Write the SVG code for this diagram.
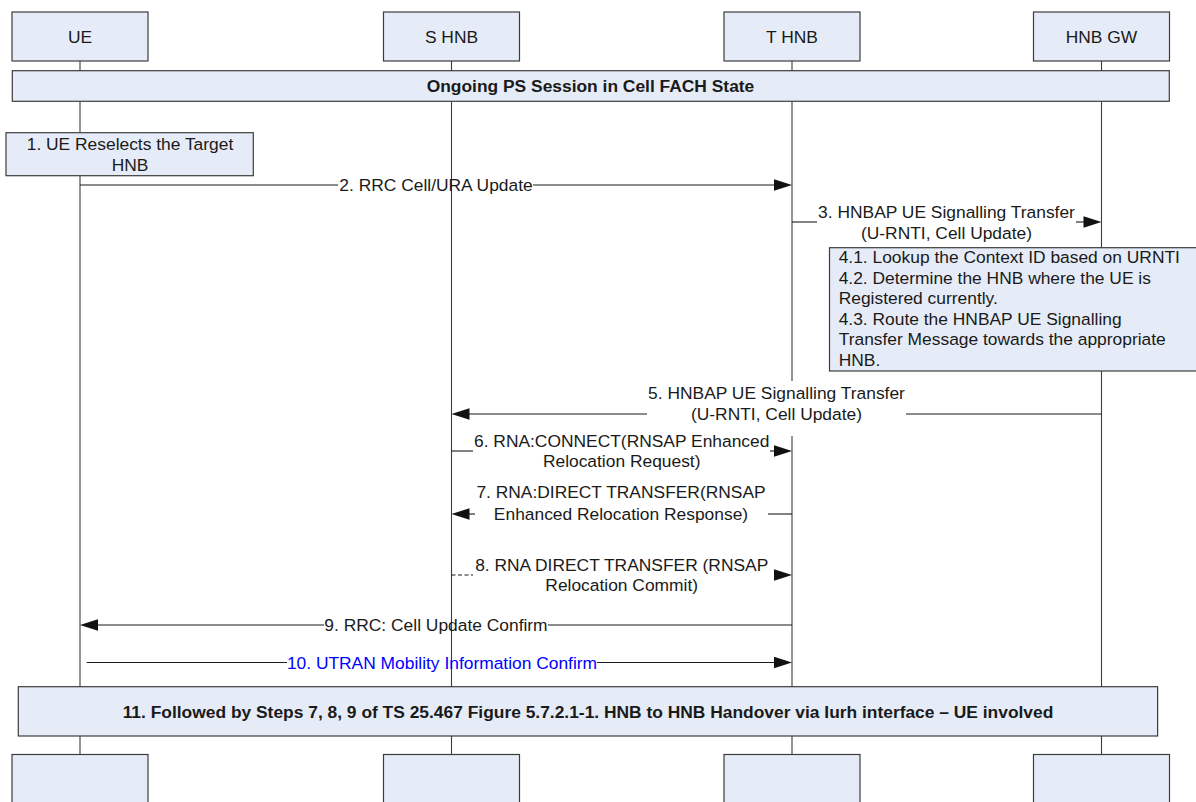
<svg xmlns="http://www.w3.org/2000/svg" width="1196" height="802" viewBox="0 0 1196 802">
  <defs>
    <style>
      .box{fill:#E6ECF7;stroke:#3C3C3C;stroke-width:1.2}
      .life{stroke:#3C3C3C;stroke-width:1.1;fill:none}
      .msg{stroke:#1A1A1A;stroke-width:1.1;fill:none}
      .dash{stroke-dasharray:4 2.5}
      .ah{fill:#111}
      text{font-family:"Liberation Sans",Arial,sans-serif;font-size:17.4px;fill:#1A1A1A}
      .c{text-anchor:middle}
      .b{font-weight:bold}
      .blue{fill:#0000FF}
    </style>
    <!-- arrowhead pointing right, tip at origin -->
    <path id="ahR" d="M0,0 L-18,-5.7 L-18,5.7 Z"/>
    <!-- arrowhead pointing left, tip at origin -->
    <path id="ahL" d="M0,0 L18,-5.7 L18,5.7 Z"/>
  </defs>

  <rect width="1196" height="802" fill="#FFFFFF"/>

  <!-- lifelines -->
  <g id="lifelines">
    <line class="life" x1="80" y1="61" x2="80" y2="755"/>
    <line class="life" x1="451.5" y1="61" x2="451.5" y2="755"/>
    <line class="life" x1="792" y1="61" x2="792" y2="755"/>
    <line class="life" x1="1101.5" y1="61" x2="1101.5" y2="755"/>
  </g>

  <!-- participants: header and footer boxes -->
  <g id="ue">
    <rect class="box" x="12" y="12" width="136" height="49"/>
    <text class="c" x="80" y="42.6">UE</text>
    <rect class="box" x="12" y="754.5" width="136" height="60"/>
  </g>
  <g id="s-hnb">
    <rect class="box" x="383.5" y="12" width="136" height="49"/>
    <text class="c" x="451.5" y="42.6">S HNB</text>
    <rect class="box" x="383.5" y="754.5" width="136" height="60"/>
  </g>
  <g id="t-hnb">
    <rect class="box" x="724" y="12" width="136" height="49"/>
    <text class="c" x="792" y="42.6">T HNB</text>
    <rect class="box" x="724" y="754.5" width="136" height="60"/>
  </g>
  <g id="hnb-gw">
    <rect class="box" x="1033.5" y="12" width="136" height="49"/>
    <text class="c" x="1101.5" y="42.6">HNB GW</text>
    <rect class="box" x="1033.5" y="754.5" width="136" height="60"/>
  </g>

  <!-- state bar -->
  <g id="ongoing-session">
    <rect class="box" x="12.3" y="70.7" width="1157" height="30.6"/>
    <text class="c b" x="590.5" y="92.2">Ongoing PS Session in Cell FACH State</text>
  </g>

  <!-- step 1 -->
  <g id="step1">
    <rect class="box" x="6" y="132.7" width="247.3" height="43"/>
    <text class="c" x="130" y="150.4">1. UE Reselects the Target</text>
    <text class="c" x="130" y="170.6">HNB</text>
  </g>

  <!-- step 4 -->
  <g id="step4">
    <rect class="box" x="829.5" y="247.7" width="375" height="123.3"/>
    <text x="838.7" y="263">4.1. Lookup the Context ID based on URNTI</text>
    <text x="838.7" y="283.6">4.2. Determine the HNB where the UE is</text>
    <text x="838.7" y="304.2">Registered currently.</text>
    <text x="838.7" y="324.8">4.3. Route the HNBAP UE Signalling</text>
    <text x="838.7" y="345.4">Transfer Message towards the appropriate</text>
    <text x="838.7" y="366">HNB.</text>
  </g>

  <!-- step 11 -->
  <g id="step11">
    <rect class="box" x="18.3" y="686.7" width="1139.3" height="49.3"/>
    <text class="c b" x="588" y="717.5">11. Followed by Steps 7, 8, 9 of TS 25.467 Figure 5.7.2.1-1. HNB to HNB Handover via Iurh interface – UE involved</text>
  </g>

  <!-- messages -->
  <g id="connectors">
    <!-- 2 -->
    <g id="msg2">
      <line class="msg" x1="80" y1="185" x2="338" y2="185"/>
      <line class="msg" x1="533" y1="185" x2="776" y2="185"/>
      <use href="#ahR" class="ah" x="792" y="185"/>
      <text class="c" x="436" y="191.2">2. RRC Cell/URA Update</text>
    </g>
    <!-- 3 -->
    <g id="msg3">
      <line class="msg" x1="792" y1="222" x2="817" y2="222"/>
      <line class="msg" x1="1076" y1="222" x2="1085" y2="222"/>
      <use href="#ahR" class="ah" x="1101.5" y="222"/>
      <text class="c" x="946.5" y="217.9">3. HNBAP UE Signalling Transfer</text>
      <text class="c" x="946.5" y="238.5">(U-RNTI, Cell Update)</text>
    </g>
    <!-- 5 -->
    <g id="msg5">
      <rect x="647" y="381" width="259" height="55" fill="#FFFFFF"/>
      <line class="msg" x1="467" y1="414" x2="647" y2="414"/>
      <line class="msg" x1="906" y1="414" x2="1101.5" y2="414"/>
      <use href="#ahL" class="ah" x="451.5" y="414"/>
      <text class="c" x="776.5" y="399.4">5. HNBAP UE Signalling Transfer</text>
      <text class="c" x="776.5" y="420.2">(U-RNTI, Cell Update)</text>
    </g>
    <!-- 6 -->
    <g id="msg6">
      <line class="msg" x1="451.5" y1="451" x2="473" y2="451"/>
      <line class="msg" x1="770" y1="451" x2="776" y2="451"/>
      <use href="#ahR" class="ah" x="792" y="451"/>
      <text class="c" x="621.7" y="446.9">6. RNA:CONNECT(RNSAP Enhanced</text>
      <text class="c" x="621.7" y="467">Relocation Request)</text>
    </g>
    <!-- 7 -->
    <g id="msg7">
      <line class="msg" x1="467" y1="514" x2="475" y2="514"/>
      <line class="msg" x1="768" y1="514" x2="792" y2="514"/>
      <use href="#ahL" class="ah" x="451.5" y="514"/>
      <text class="c" x="621" y="497.9">7. RNA:DIRECT TRANSFER(RNSAP</text>
      <text class="c" x="621" y="519.5">Enhanced Relocation Response)</text>
    </g>
    <!-- 8 -->
    <g id="msg8">
      <line class="msg dash" x1="451.5" y1="575" x2="473" y2="575"/>
      <use href="#ahR" class="ah" x="792" y="575"/>
      <text class="c" x="621.7" y="570.5">8. RNA DIRECT TRANSFER (RNSAP</text>
      <text class="c" x="621.7" y="591.2">Relocation Commit)</text>
    </g>
    <!-- 9 -->
    <g id="msg9">
      <line class="msg" x1="96" y1="625" x2="324" y2="625"/>
      <line class="msg" x1="548" y1="625" x2="792" y2="625"/>
      <use href="#ahL" class="ah" x="80" y="625"/>
      <text class="c" x="436" y="631.2">9. RRC: Cell Update Confirm</text>
    </g>
    <!-- 10 -->
    <g id="msg10">
      <line class="msg" x1="86.7" y1="662.5" x2="287" y2="662.5"/>
      <line class="msg" x1="597" y1="662.5" x2="776" y2="662.5"/>
      <use href="#ahR" class="ah" x="792" y="662.5"/>
      <text class="c blue" x="442" y="668.7">10. UTRAN Mobility Information Confirm</text>
    </g>
  </g>
</svg>
